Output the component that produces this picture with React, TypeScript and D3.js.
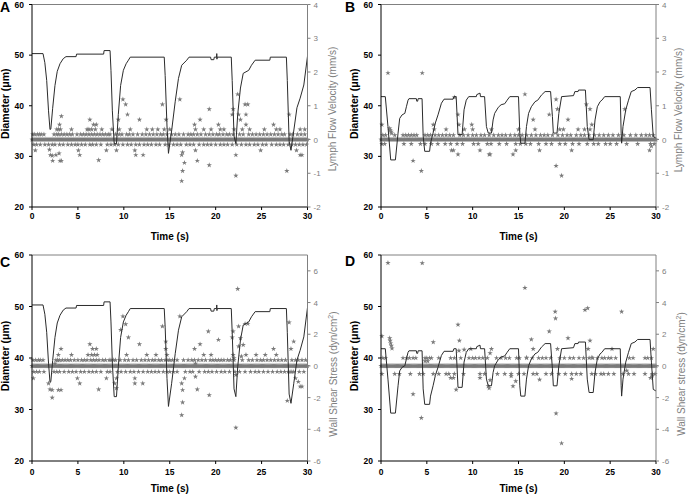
import * as d3 from 'd3';

// ---- data ----
const timeTicks = [0, 5, 10, 15, 20, 25, 30];
const diamTicks = [20, 30, 40, 50, 60];
const velTicks = [-2, -1, 0, 1, 2, 3, 4];
const wssTicks = [-6, -4, -2, 0, 2, 4, 6];

// diameter trace, vessel 1 (panels A, C)  [time s, diameter um]
const diamA: [number, number][] = [
  [0, 50.3], [1.2, 50.3], [1.4, 48.5], [1.6, 45], [1.8, 39], [1.96, 35.3], [2.05, 35.4], [2.25, 39.5],
  [2.5, 44], [2.75, 46.8], [3.05, 48.3], [3.4, 49.3], [3.7, 49.7], [4.8, 49.7], [4.85, 50.2], [7.8, 50.2],
  [7.85, 50.9], [8.5, 50.9], [8.6, 47], [8.75, 39], [8.95, 32.5], [9.2, 32.5], [9.4, 38.3], [9.65, 44],
  [9.95, 47], [10.25, 48.3], [10.5, 49.0], [10.7, 49.6], [14.4, 49.6], [14.5, 46], [14.7, 36], [14.86, 30.6],
  [15.2, 35], [15.6, 40.9], [15.95, 45.4], [16.3, 48], [16.85, 49], [17.1, 49.6], [19.45, 49.6], [19.5, 49.1],
  [19.8, 49.1], [19.85, 49.6], [20.1, 49.6], [20.12, 50.3], [20.14, 49.2], [20.16, 49.6], [21.7, 49.6],
  [21.8, 45], [22.0, 34], [22.2, 32.5], [22.4, 38.3], [22.7, 43.5], [23.0, 46.4], [23.6, 47.0], [23.9, 48.0],
  [24.3, 49.0], [25.9, 49.0], [25.95, 49.6], [27.7, 49.6], [27.8, 45], [28.0, 33], [28.2, 31.2], [28.5, 35],
  [28.85, 39.6], [29.2, 41.5], [29.6, 44.1], [30, 49.8],
];

// diameter trace, vessel 2 (panels B, D)
const diamB: [number, number][] = [
  [0, 41.8], [0.47, 41.8], [0.76, 35.9], [1.06, 29.3], [1.57, 29.3], [1.86, 34.6], [2.04, 37.5], [2.3, 38.2],
  [2.6, 38.5], [2.77, 39.8], [2.95, 41.1], [3.05, 41.4], [3.86, 41.4], [3.9, 40.9], [4.0, 40.9], [4.05, 41.4],
  [4.48, 41.4], [4.6, 34], [4.77, 31], [5.3, 31], [5.4, 32.6], [5.68, 34.6], [5.93, 36.6], [6.22, 38.2],
  [6.59, 40.5], [6.88, 41.3], [7.86, 41.3], [7.95, 41.8], [8.2, 41.8], [8.4, 34.3], [8.85, 34.3], [9.06, 39.2],
  [9.3, 41.1], [9.57, 41.8], [10.4, 41.8], [10.45, 42.2], [10.8, 42.5], [10.85, 41.8], [11.3, 41.8], [11.5, 35.9],
  [11.7, 34.6], [12.05, 34.6], [12.23, 37.2], [12.4, 38.5], [12.8, 39.7], [13.1, 40.2], [13.5, 40.4],
  [13.76, 41.1], [14.05, 41.8], [15.0, 41.8], [15.14, 34.6], [15.25, 32.6], [15.7, 32.6], [15.87, 35.9],
  [16.1, 38.5], [16.4, 39.8], [16.8, 40.8], [17.1, 41.1], [17.5, 42.1], [17.9, 42.8], [18.5, 42.8], [18.7, 37.9],
  [18.8, 34.6], [19.2, 34.6], [19.4, 38.5], [19.7, 41.8], [21.0, 42.0], [21.15, 42.8], [21.5, 42.8], [21.55, 43.1],
  [22.3, 43.1], [22.5, 35.9], [22.7, 33.3], [23.15, 33.3], [23.35, 37.2], [23.6, 39.8], [23.9, 40.8], [24.1, 41.1],
  [24.4, 41.8], [26.1, 41.8], [26.2, 34.6], [26.25, 32.6], [26.4, 35.9], [26.7, 39.2], [27.0, 41.1], [27.3, 42.8],
  [27.7, 43.1], [28.0, 43.6], [29.35, 43.6], [29.5, 39.2], [29.7, 33.9], [30, 33.6],
];

// video frame interval; most frames sit on the zero line
const FRAME_STEP = 0.1;

// A: lymph flow velocity (mm/s). rows of asterisks just above / below zero, plus scattered points
const velALevel = 0.15;
const velAUp = [0.1, 0.3, 0.6, 0.8, 1.0, 1.3, 2.4, 2.7, 2.9, 3.2, 3.5, 3.8, 4.1, 4.4, 4.9, 5.3, 5.6, 5.9, 6.2, 6.5, 6.8, 7.1, 7.4, 7.7, 8.0, 8.3, 8.5, 9.1, 9.5, 9.8, 10.3, 10.6, 11.0, 11.5, 12.0, 12.4, 12.8, 13.2, 13.6, 14.0, 14.3, 14.7, 15.2, 15.6, 16.0, 16.5, 17.0, 17.3, 17.6, 18.0, 18.4, 18.9, 19.3, 19.7, 20.1, 20.4, 20.8, 21.2, 21.5, 21.9, 22.6, 23.0, 23.6, 24.0, 24.4, 24.8, 25.2, 25.6, 26.0, 26.4, 26.8, 27.2, 27.5, 28.1, 28.4, 28.9, 29.3, 29.7];
const velADown = [0.2, 0.5, 0.9, 1.4, 1.8, 2.2, 2.5, 3.0, 3.4, 3.9, 4.3, 4.7, 5.0, 5.4, 5.8, 6.3, 6.6, 7.0, 7.5, 8.2, 8.6, 9.0, 9.4, 9.9, 10.4, 10.8, 11.3, 11.7, 12.2, 12.6, 13.0, 13.5, 13.9, 14.5, 14.9, 15.4, 15.8, 16.2, 16.8, 17.2, 17.6, 18.2, 18.7, 19.1, 19.5, 20.0, 20.5, 20.9, 21.3, 21.8, 22.3, 22.8, 23.3, 23.7, 24.2, 24.6, 25.1, 25.5, 26.1, 26.6, 27.0, 27.4, 27.9, 28.3, 28.7, 29.1, 29.5, 29.9];
const velAOther: [number, number][] = [
  [0.36, -0.32], [1.9, -0.3], [2.0, -0.46], [2.2, -0.48], [2.25, -0.63], [2.6, -0.46], [3.05, -0.63], [3.2, -0.63],
  [2.95, -0.41], [3.2, 0.69], [2.9, 0.3], [2.7, 0.3], [3.1, 0.3], [3.0, 0.44], [4.3, 0.3], [5.05, -0.32], [5.2, -0.46],
  [6.3, 0.59], [6.0, 0.3], [6.2, 0.3], [6.5, 0.3], [6.9, 0.3], [6.7, 0.44], [7.0, 0.44], [7.26, -0.61], [7.6, 0.3],
  [8.1, -0.32], [8.7, 0.3], [9.2, -0.32], [9.4, 0.59], [9.9, 1.19], [10.2, 1.04], [10.4, 0.74], [9.5, 0.3], [10.7, 0.3],
  [11.2, -0.32], [11.3, -0.46], [11.7, 0.59], [12.1, -0.46], [12.5, 0.3], [13.1, 0.3], [13.7, 0.3], [14.2, 1.04],
  [14.6, 0.59], [14.4, 0.3], [15.0, 0.3], [16.1, 1.19], [16.3, -0.46], [16.4, -0.38], [16.4, -0.93], [16.3, -1.23],
  [16.6, -0.69], [17.7, 0.44], [17.8, 0.3], [17.8, -0.32], [18.0, -0.63], [18.3, 0.59], [18.7, 0.3], [19.3, 0.9],
  [19.3, -0.76], [19.5, 0.3], [20.3, 0.44], [20.5, 0.3], [20.9, 0.3], [21.8, 0.74], [21.9, 0.9], [22.0, 0.3],
  [22.2, -0.46], [22.2, -1.07], [22.4, 1.34], [22.5, 0.74], [22.7, 0.59], [22.9, 0.3], [23.2, 1.04], [23.5, 1.04],
  [23.3, 0.74], [23.3, 0.44], [23.7, 0.3], [24.9, -0.32], [25.3, 0.3], [26.3, 0.44], [26.6, 0.3], [27.0, 0.3],
  [27.75, -0.93], [28.0, 0.74], [28.8, -0.32], [29.2, -0.46], [29.4, -0.46], [29.2, 0.3], [29.7, 0.3],
];

// B: lymph flow velocity (mm/s)
const velBLevel = 0.13;
const velBUp = [0.2, 0.5, 1.5, 2.4, 2.7, 3.0, 3.3, 3.6, 3.9, 4.8, 5.1, 5.4, 5.9, 6.3, 6.7, 7.1, 7.5, 7.9, 8.6, 9.0, 9.5, 10.0, 10.4, 10.9, 11.3, 11.8, 12.3, 12.8, 13.2, 13.6, 14.1, 14.6, 15.0, 15.4, 15.9, 16.4, 16.9, 17.4, 17.8, 18.2, 18.7, 19.3, 19.8, 20.3, 20.7, 21.3, 21.8, 22.2, 22.7, 23.3, 23.8, 24.3, 24.8, 25.3, 25.9, 26.5, 27.2, 27.8, 28.4, 28.9, 29.3, 29.7];
const velBDown = [0.1, 0.4, 2.5, 3.3, 4.3, 4.8, 5.5, 6.2, 7.0, 7.6, 8.3, 8.9, 10.1, 10.6, 11.6, 12.0, 12.9, 13.7, 14.7, 15.2, 15.8, 16.3, 17.2, 18.0, 18.6, 19.5, 20.1, 20.9, 21.6, 22.5, 23.2, 23.7, 24.5, 25.0, 25.7, 26.8, 28.0, 29.4, 29.8];
const velBOther: [number, number][] = [
  [0.76, 1.97], [4.5, 1.97], [0.1, 0.44], [0.95, 0.33], [1.0, 0.28], [1.1, 0.23], [1.15, 0.18], [3.5, -0.63],
  [4.4, -0.93], [5.7, 0.44], [5.8, 0.3], [7.1, 0.3], [7.7, -0.32], [7.9, -0.32], [8.0, 1.25], [8.4, 0.74], [8.5, 0.44],
  [8.4, -0.44], [9.1, 0.3], [9.9, 0.44], [10.0, 0.3], [10.8, -0.32], [11.8, -0.44], [11.9, -0.44], [12.05, 0.3],
  [14.4, -0.44], [14.7, -0.32], [15.0, 0.3], [15.7, 1.34], [16.6, 0.59], [16.8, 0.3], [17.3, -0.32], [18.35, 0.74],
  [19.1, 1.19], [19.25, 0.9], [19.1, -0.78], [19.7, -1.07], [19.5, 0.3], [19.9, 0.3], [20.4, 0.59], [20.8, -0.32],
  [21.5, 0.3], [22.2, 0.3], [22.4, 1.04], [22.8, 0.9], [23.0, 0.44], [22.8, 0.3], [26.6, 0.9], [29.3, -0.32], [29.5, -0.2],
];

// C: wall shear stress (dyn/cm2), vessel 1
const wssCLevel = 0.37;
const wssCUp = [0.1, 0.4, 0.7, 0.9, 1.2, 2.6, 2.8, 3.3, 3.6, 3.9, 4.2, 4.6, 5.0, 5.4, 5.7, 6.0, 6.4, 6.7, 7.0, 7.3, 7.7, 8.0, 8.4, 8.6, 8.9, 9.1, 9.6, 10.1, 10.5, 11.0, 11.4, 11.9, 12.3, 12.7, 13.1, 13.4, 13.8, 14.1, 14.5, 14.8, 15.0, 15.3, 15.8, 16.5, 17.0, 17.4, 17.7, 18.1, 18.5, 18.9, 19.4, 19.7, 20.0, 20.3, 20.6, 20.9, 21.3, 21.6, 22.0, 22.9, 23.6, 24.0, 24.5, 24.9, 25.2, 25.6, 26.0, 26.4, 26.8, 27.2, 27.6, 28.3, 28.7, 29.0, 29.4, 29.8];
const wssCDown = [0.2, 0.5, 0.8, 1.3, 2.4, 2.7, 3.0, 3.5, 4.0, 4.4, 4.8, 5.3, 5.7, 6.2, 6.6, 7.0, 7.5, 8.2, 8.5, 9.3, 9.7, 10.2, 10.7, 11.1, 11.6, 12.1, 12.6, 13.0, 13.4, 13.8, 14.3, 14.7, 15.0, 15.4, 15.8, 16.7, 17.2, 17.5, 18.2, 18.8, 19.2, 19.6, 20.1, 20.6, 21.0, 21.5, 22.1, 22.6, 23.2, 23.8, 24.3, 24.7, 25.2, 25.7, 26.2, 26.7, 27.1, 27.5, 27.9, 28.1, 28.3, 28.5, 29.1, 29.6];
const wssCOther: [number, number][] = [
  [0.15, -0.78], [1.8, -1.1], [1.96, -1.48], [2.2, -2.0], [2.2, -1.52], [2.5, 0.15], [2.87, 0.7], [3.16, 1.08],
  [2.87, -1.52], [3.16, -1.52], [2.8, 0.36], [3.0, 0.36], [4.3, 0.7], [4.94, -0.78], [5.2, -1.1], [6.3, 1.37],
  [6.6, 1.08], [7.0, 1.08], [7.26, -1.48], [6.1, 0.7], [6.5, 0.7], [6.8, 0.7], [7.1, 0.7], [8.1, -0.78], [9.0, -1.1],
  [9.2, -0.78], [9.2, -1.4], [9.66, 2.28], [9.9, 3.13], [10.2, 2.64], [10.5, 1.8], [10.3, 0.7], [11.2, -0.78],
  [11.2, -1.1], [11.7, 1.37], [12.06, -1.1], [12.5, 0.7], [13.5, 0.7], [14.2, 2.5], [14.57, 1.54], [14.57, 1.08],
  [14.7, 0.7], [16.1, 3.13], [16.3, -1.1], [16.4, -1.52], [16.4, -2.3], [16.3, -3.1], [16.6, -0.78], [17.7, 1.08],
  [17.8, 0.15], [17.8, -0.68], [18.0, -1.48], [18.3, 1.37], [18.7, 0.7], [19.2, 2.18], [19.3, -1.84], [19.5, 0.7],
  [20.3, 1.65], [21.8, 1.8], [21.9, 2.18], [21.9, 0.7], [22.0, 0.5], [22.2, -0.57], [22.2, -3.9], [22.4, 4.86],
  [22.5, 2.5], [22.7, 1.75], [22.5, 1.23], [22.8, 0.6], [23.2, 2.66], [23.5, 2.66], [23.0, 1.33], [23.3, 0.7],
  [24.4, 0.7], [25.4, 0.7], [26.3, 1.08], [26.6, 0.7], [27.8, -2.2], [28.0, 2.75], [28.2, 1.08], [28.5, 1.54],
  [28.7, -0.78], [29.0, -1.0], [29.2, -1.3], [29.4, -1.3],
];

// D: wall shear stress (dyn/cm2), vessel 2
const wssDLevel = 0.5;
const wssDUp = [0.2, 0.5, 2.4, 2.8, 3.1, 3.5, 3.8, 4.8, 5.0, 5.3, 5.5, 6.3, 7.6, 8.0, 8.7, 9.6, 10.0, 10.3, 10.7, 11.1, 11.6, 12.6, 13.1, 13.6, 14.0, 14.8, 15.1, 15.9, 16.5, 17.2, 17.6, 18.0, 18.5, 19.5, 20.0, 20.6, 21.0, 21.6, 22.1, 22.7, 23.1, 23.6, 24.1, 24.4, 24.8, 25.1, 25.6, 27.1, 27.5, 28.8, 29.1, 29.5];
const wssDDown = [0.1, 1.5, 2.0, 3.2, 4.2, 4.6, 5.7, 6.3, 7.1, 7.4, 8.0, 9.0, 10.8, 11.3, 12.7, 13.5, 14.2, 15.0, 15.6, 16.6, 17.0, 18.0, 18.6, 19.4, 20.1, 20.8, 21.3, 21.8, 23.0, 23.4, 24.0, 24.3, 24.8, 25.4, 26.4, 27.0, 27.6, 28.8, 29.6, 29.9];
const wssDOther: [number, number][] = [
  [0.76, 6.5], [4.5, 6.49], [0.1, 1.88], [0.95, 1.75], [1.0, 1.6], [1.05, 1.43], [1.13, 1.28], [1.2, 1.1],
  [3.5, -1.78], [4.4, -3.28], [4.8, 0.3], [5.1, 0.3], [5.7, 1.5], [7.6, -0.75], [7.9, -0.75], [8.2, -1.5],
  [8.4, 2.6], [8.55, 1.6], [8.5, 0.96], [9.07, 1.03], [9.8, 1.07], [10.8, -0.75], [11.7, -1.28], [11.8, -1.4],
  [11.9, -0.9], [12.05, 1.07], [11.9, 0.8], [14.2, -0.64], [14.4, -1.28], [14.7, -0.96], [15.7, 4.93],
  [15.87, 0.53], [16.4, 1.67], [16.6, 1.07], [17.3, -0.86], [18.35, 2.18], [19.0, 3.42], [19.04, 3.0],
  [19.1, -3.0], [19.25, 1.07], [19.7, -4.88], [20.4, 1.75], [20.8, -0.81], [22.25, 3.53], [22.55, 3.64],
  [22.6, 1.07], [22.8, 1.6], [23.0, 0.53], [25.2, 1.07], [26.25, 3.42], [26.8, -0.3], [29.7, 1.07],
  [29.4, -0.75], [29.6, -0.6],
];

const GRAY = '#808080';
const FONT = 'Arial, "Liberation Sans", Helvetica, sans-serif';

type PanelProps = {
  letter: string; letterX: number; letterY: number;
  left: number; top: number; right: number; bottom: number;
  diam: [number, number][];
  level: number; up: number[]; down: number[]; other: [number, number][];
  rDomain: [number, number]; rTicks: number[];
  rLabel: string; sup?: boolean;
  tickBase: number; titleBase: number; rLabelX: number; rLabelY: number;
};

const star = d3.symbol(d3.symbolStar, 9)();

const Panel = (p: PanelProps) => {
  const x = d3.scaleLinear().domain([0, 30]).range([p.left, p.right]);
  const yL = d3.scaleLinear().domain([20, 60]).range([p.bottom, p.top]);
  const yR = d3.scaleLinear().domain(p.rDomain).range([p.bottom, p.top]);
  const line = d3.line<[number, number]>().x(d => x(d[0])).y(d => yL(d[1]));

  const frames = d3.range(0, 30 + 1e-9, FRAME_STEP);
  const pts: [number, number][] = [
    ...frames.map(t => [t, 0] as [number, number]),
    ...p.up.map(t => [t, p.level] as [number, number]),
    ...p.down.map(t => [t, -p.level] as [number, number]),
    ...p.other,
  ];
  const midX = (p.left + p.right) / 2;

  return (
    <g fontFamily={FONT}>
      <text x={p.letterX} y={p.letterY} fontSize={14} fontWeight="bold">{p.letter}</text>

      {/* scatter */}
      <g fill="#7a7a7a">
        {pts.map((d, i) => (
          <path key={i} d={star!} transform={`translate(${x(d[0])},${yR(d[1])})`} />
        ))}
      </g>
      <path d={line(p.diam)!} fill="none" stroke="#2b2b2b" strokeWidth={1} />

      {/* frame */}
      <line x1={p.left} x2={p.right} y1={p.top} y2={p.top} stroke={GRAY} />
      <line x1={p.right} x2={p.right} y1={p.top} y2={p.bottom} stroke={GRAY} />
      <line x1={p.left} x2={p.left} y1={p.top} y2={p.bottom} stroke="#000" />
      <line x1={p.left} x2={p.right} y1={p.bottom} y2={p.bottom} stroke="#000" />

      {/* left axis */}
      {diamTicks.map(t => (
        <g key={t}>
          <line x1={p.left - 3} x2={p.left} y1={yL(t)} y2={yL(t)} stroke="#000" />
          <text x={p.left - 8} y={yL(t) + 3} fontSize={8.5} fontWeight="bold" textAnchor="end">{t}</text>
        </g>
      ))}
      <text transform={`translate(${p.left - 23},${(p.top + p.bottom) / 2 - 2}) rotate(-90)`} fontSize={10.5} fontWeight="bold" textAnchor="middle">
        Diameter (μm)
      </text>

      {/* bottom axis */}
      {timeTicks.map(t => (
        <g key={t}>
          <line x1={x(t)} x2={x(t)} y1={p.bottom} y2={p.bottom + 3} stroke="#000" />
          <text x={x(t)} y={p.tickBase} fontSize={8.5} fontWeight="bold" textAnchor="middle">{t}</text>
        </g>
      ))}
      <text x={midX} y={p.titleBase} fontSize={10} fontWeight="bold" textAnchor="middle">Time (s)</text>

      {/* right axis */}
      {p.rTicks.map(t => (
        <g key={t}>
          <line x1={p.right} x2={p.right + 3} y1={yR(t)} y2={yR(t)} stroke={GRAY} />
          <text x={p.right + 6} y={yR(t) + 3} fontSize={8} fill={GRAY}>{t}</text>
        </g>
      ))}
      <text transform={`translate(${p.rLabelX},${p.rLabelY}) rotate(-90)`} fontSize={10} fill={GRAY} textAnchor="middle">
        {p.sup ? (
          <>
            <tspan>{p.rLabel}</tspan>
            <tspan dy={-4} fontSize={7}>2</tspan>
            <tspan dy={4}>)</tspan>
          </>
        ) : p.rLabel}
      </text>
    </g>
  );
};

export default function App() {
  return (
    <svg width={688} height={500} style={{ position: 'absolute', left: 0, top: 0, background: '#fff' }}>
      <rect width={688} height={500} fill="#fff" />
      <Panel letter="A" letterX={0} letterY={12} left={32} top={4.5} right={307.5} bottom={207} diam={diamA}
        level={velALevel} up={velAUp} down={velADown} other={velAOther}
        rDomain={[-2, 4]} rTicks={velTicks} rLabel="Lymph Flow Velocity (mm/s)"
        tickBase={219} titleBase={239.5} rLabelX={335.5} rLabelY={109} />
      <Panel letter="B" letterX={345} letterY={12} left={381} top={4.5} right={656} bottom={207} diam={diamB}
        level={velBLevel} up={velBUp} down={velBDown} other={velBOther}
        rDomain={[-2, 4]} rTicks={velTicks} rLabel="Lymph Flow Velocity (mm/s)"
        tickBase={219} titleBase={239.5} rLabelX={682} rLabelY={110} />
      <Panel letter="C" letterX={0} letterY={266.5} left={32} top={255} right={307.5} bottom={461} diam={diamA}
        level={wssCLevel} up={wssCUp} down={wssCDown} other={wssCOther}
        rDomain={[-6, 7]} rTicks={wssTicks} rLabel="Wall Shear Stress (dyn/cm" sup
        tickBase={475} titleBase={492} rLabelX={337} rLabelY={374} />
      <Panel letter="D" letterX={345} letterY={265.5} left={381} top={255} right={656} bottom={461} diam={diamB}
        level={wssDLevel} up={wssDUp} down={wssDDown} other={wssDOther}
        rDomain={[-6, 7]} rTicks={wssTicks} rLabel="Wall Shear stress (dyn/cm" sup
        tickBase={475} titleBase={492} rLabelX={685} rLabelY={374} />
    </svg>
  );
}
